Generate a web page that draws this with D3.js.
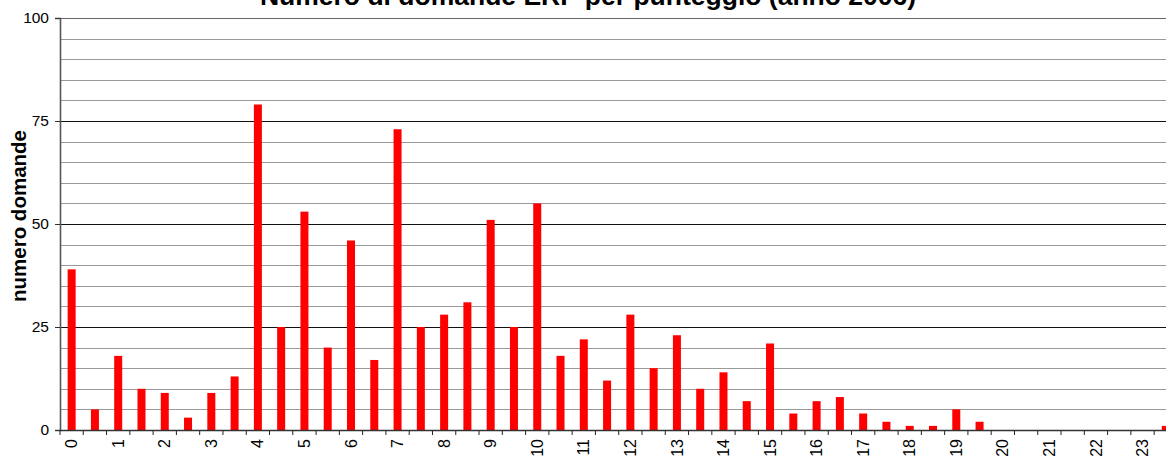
<!DOCTYPE html>
<html>
<head>
<meta charset="utf-8">
<script src="https://cdn.jsdelivr.net/npm/d3@7"></script>
<style>
  body { margin: 0; background: #fff; }
  text { font-family: "Liberation Sans", Arial, sans-serif; }
</style>
</head>
<body>
<div id="chart"></div>
<script>
// punteggio categories (half-point steps)
var categories = ["0","0.5","1","1.5","2","2.5","3","3.5","4","4.5","5","5.5",
    "6","6.5","7","7.5","8","8.5","9","9.5","10","10.5","11","11.5",
    "12","12.5","13","13.5","14","14.5","15","15.5","16","16.5","17","17.5",
    "18","18.5","19","19.5","20","20.5","21","21.5","22","22.5","23","23.5"];

// numero domande per category
var domande = [39, 5, 18, 10, 9, 3, 9, 13, 79, 25, 53, 20,
    46, 17, 73, 25, 28, 31, 51, 25, 55, 18, 22, 12,
    28, 15, 23, 10, 14, 7, 21, 4, 7, 8, 4, 2,
    1, 1, 5, 2, 0, 0, 0, 0, 0, 0, 0, 1];

var xTickLabels = ["0","1","2","3","4","5","6","7","8","9","10","11",
    "12","13","14","15","16","17","18","19","20","21","22","23"];
var yMajorTicks = [0, 25, 50, 75, 100];
var yMinorTicks = [5, 10, 15, 20, 30, 35, 40, 45, 55, 60, 65, 70, 80, 85, 90, 95];

var width = 1166, height = 461;
var plotLeft = 60, plotTop = 18, plotBottom = 430;
var step = 23.28;
var plotRight = plotLeft + step * categories.length;

var svg = d3.select("#chart")
    .append("svg")
        .attr("width", width)
        .attr("height", height);

var xBand = d3.scaleBand()
    .domain(categories)
    .range([plotLeft, plotRight])
    .padding(0);

var xBar = d3.scaleBand()
    .domain(categories)
    .range([plotLeft, plotRight])
    .paddingInner(0.656)
    .paddingOuter(0.328);

var y = d3.scaleLinear()
    .domain([0, 100])
    .range([plotBottom, plotTop]);

// minor gridlines
svg.selectAll(".minor")
    .data(yMinorTicks)
    .enter()
    .append("line")
        .attr("x1", plotLeft).attr("x2", width)
        .attr("y1", function(d) { return Math.round(y(d)) + 0.5; })
        .attr("y2", function(d) { return Math.round(y(d)) + 0.5; })
        .attr("stroke", "#9a9a9a")
        .attr("stroke-width", 1);

// major gridlines
svg.selectAll(".major")
    .data(yMajorTicks.filter(function(d) { return d > 0; }))
    .enter()
    .append("line")
        .attr("x1", plotLeft).attr("x2", width)
        .attr("y1", function(d) { return Math.round(y(d)) + 0.5; })
        .attr("y2", function(d) { return Math.round(y(d)) + 0.5; })
        .attr("stroke", function(d) { return d === 100 ? "#666" : "#111"; })
        .attr("stroke-width", 1);

// bars
svg.selectAll(".bar")
    .data(domande)
    .enter()
    .append("rect")
        .attr("x", function(d, i) { return xBar(categories[i]); })
        .attr("width", xBar.bandwidth())
        .attr("y", function(d) { return y(d); })
        .attr("height", function(d) { return plotBottom - y(d); })
        .attr("fill", "#ff0000");

// y axis
var yAxis = d3.axisLeft(y)
    .tickValues(yMajorTicks)
    .tickSize(5)
    .tickPadding(6);

var gy = svg.append("g")
    .attr("transform", "translate(" + plotLeft + ",0)")
    .call(yAxis);
gy.select(".domain").attr("stroke", "#555").attr("stroke-width", 1.6);
gy.selectAll(".tick line").attr("stroke", "#333");
gy.selectAll(".tick text")
    .style("font-size", "15.5px")
    .attr("fill", "#000");

// x axis: ticks on category boundaries
var boundaries = categories.map(function(c) { return xBand(c); });
svg.selectAll(".xtick")
    .data(boundaries)
    .enter()
    .append("line")
        .attr("x1", function(d) { return d; })
        .attr("x2", function(d) { return d; })
        .attr("y1", plotBottom).attr("y2", plotBottom + 5)
        .attr("stroke", "#222");

svg.append("line")
    .attr("x1", plotLeft).attr("x2", width)
    .attr("y1", plotBottom + 0.5).attr("y2", plotBottom + 0.5)
    .attr("stroke", "#333")
    .attr("stroke-width", 1.6);

svg.selectAll(".xlabel")
    .data(xTickLabels)
    .enter()
    .append("text")
        .attr("transform", function(d) {
            return "translate(" + (xBand(d) + xBand.bandwidth() / 2) + "," + 439 + ") rotate(-90)";
        })
        .attr("dy", "0.35em")
        .style("text-anchor", "end")
        .style("font-size", "16px")
        .text(function(d) { return d; });

// titles
svg.append("text")
    .attr("x", 588)
    .attr("y", 5)
    .style("text-anchor", "middle")
    .style("font-weight", "bold")
    .style("font-size", "26.5px")
    .text("Numero di domande ERP per punteggio (anno 2006)");

svg.append("text")
    .attr("transform", "translate(26,216) rotate(-90)")
    .style("text-anchor", "middle")
    .style("font-weight", "bold")
    .style("font-size", "20.5px")
    .text("numero domande");
</script>
</body>
</html>
